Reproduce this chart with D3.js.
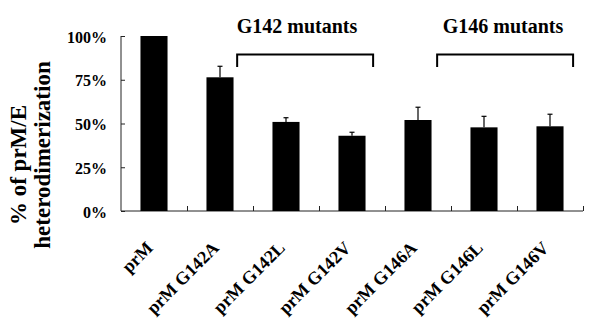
<!DOCTYPE html>
<html><head><meta charset="utf-8">
<script src="https://cdn.jsdelivr.net/npm/d3@7"></script>
<style>body{margin:0;background:#fff}svg{display:block}text{font-family:"Liberation Serif","Times New Roman",serif;font-weight:bold}</style>
</head><body>
<script>
const categories = ["prM","prM G142A","prM G142L","prM G142V","prM G146A","prM G146L","prM G146V"];
const values = [100, 76.4, 50.9, 43.0, 52.0, 47.8, 48.4];
const errors = [0, 6.3, 2.4, 2.0, 7.3, 6.3, 6.9];
const yTicks = [0, 25, 50, 75, 100];
const groups = [{label:"G142 mutants", from:1.76, to:3.82, tx:297}, {label:"G146 mutants", from:4.79, to:6.85, tx:503}];

const W=600,H=329, L=121, R=583, T=36, B=211;
const svg=d3.select("body").append("svg").attr("width",W).attr("height",H);
const x=d3.scaleBand().domain(categories).range([L,R]).paddingInner(0).paddingOuter(0);
const xi=d3.scaleLinear().domain([0,categories.length]).range([L,R]);
const y=d3.scaleLinear().domain([0,100]).range([B,T]);
const bw=x.bandwidth()*0.41;

// axes
const ya=svg.append("g").attr("transform",`translate(${L},0)`).call(d3.axisRight(y).tickValues(yTicks).tickSize(4).tickFormat(""));
ya.select(".domain").attr("d",`M0,${T}V${B}`);
yTicks.forEach(v=>svg.append("text").attr("x",107).attr("y",y(v)+6.5).attr("text-anchor","end").attr("font-size",16).text(v+"%"));

const xa=svg.append("g").attr("transform",`translate(0,${B})`)
 .call(d3.axisTop(xi).tickValues(d3.range(1,8)).tickSize(5).tickFormat(""));
xa.select(".domain").attr("d",`M${L},0H${R}`);
svg.selectAll(".domain,.tick line").attr("stroke","#222");

// bars
svg.selectAll("rect.bar").data(categories).enter().append("rect")
 .attr("x",d=>x(d)+x.bandwidth()/2-bw/2).attr("width",bw)
 .attr("y",(d,i)=>y(values[i])).attr("height",(d,i)=>B-y(values[i])).attr("fill","#000");
// error bars
categories.forEach((c,i)=>{ if(!errors[i]) return;
 const cx=x(c)+x.bandwidth()/2;
 svg.append("line").attr("x1",cx).attr("x2",cx).attr("y1",y(values[i])).attr("y2",y(values[i]+errors[i])).attr("stroke","#000").attr("stroke-width",1.2);
 svg.append("line").attr("x1",cx-2.5).attr("x2",cx+2.5).attr("y1",y(values[i]+errors[i])).attr("y2",y(values[i]+errors[i])).attr("stroke","#000").attr("stroke-width",1.2);
});

// x labels
categories.forEach(c=>{
 const cx=x(c)+x.bandwidth()/2;
 svg.append("text").attr("transform",`translate(${cx},${249}) rotate(-45)`).attr("text-anchor","end").attr("font-size",18).text(c);
});

// brackets
groups.forEach(g=>{
 const a=xi(g.from), b=xi(g.to);
 svg.append("path").attr("d",`M${a},67V54.5H${b}V67`).attr("fill","none").attr("stroke","#000").attr("stroke-width",2);
 svg.append("text").attr("x",g.tx).attr("y",32.5).attr("text-anchor","middle").attr("font-size",20).text(g.label);
});

// y title
svg.append("text").attr("transform","translate(26,165) rotate(-90)").attr("text-anchor","middle").attr("font-size",23).text("% of prM/E");
svg.append("text").attr("transform","translate(50,155) rotate(-90)").attr("text-anchor","middle").attr("font-size",23).text("heterodimerization");
</script>
</body></html>
